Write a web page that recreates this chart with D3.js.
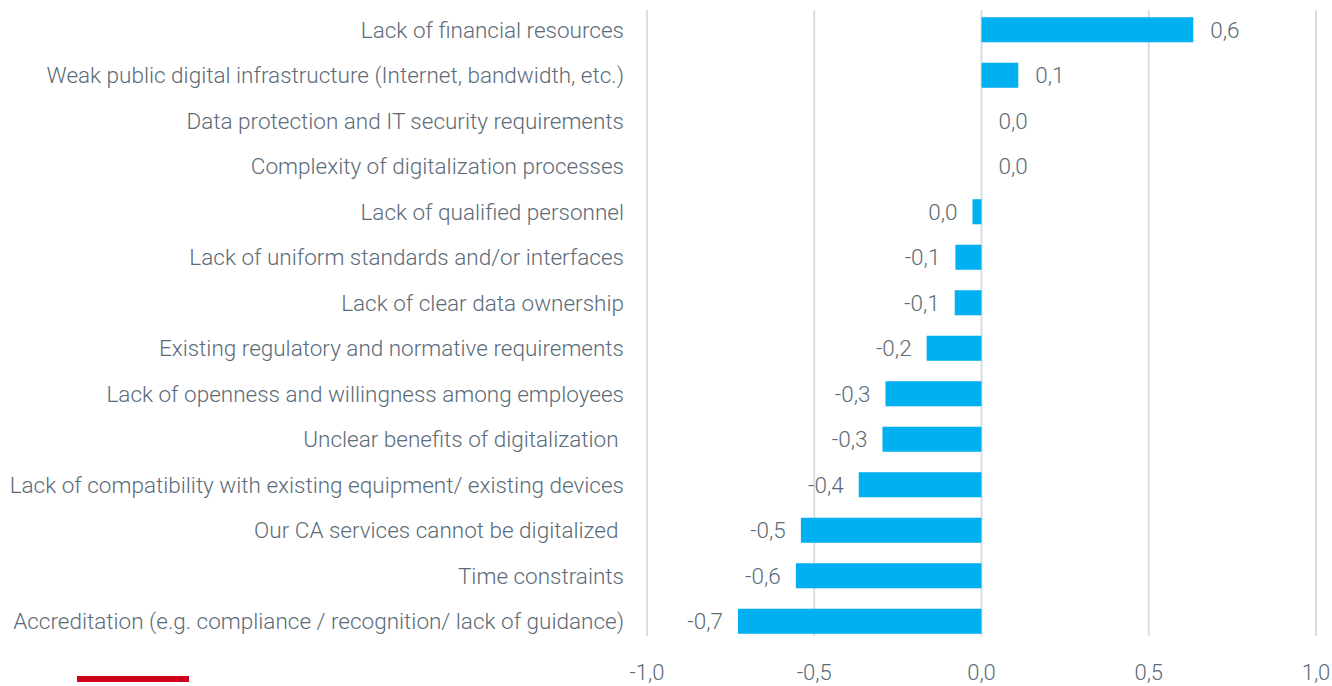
<!DOCTYPE html>
<html>
<head>
<meta charset="utf-8">
<script src="https://cdn.jsdelivr.net/npm/d3@7"></script>
<style>
  body { margin: 0; background: #fff; }
  text { font-family: Roboto, "Noto Sans", sans-serif; font-weight: 300; fill: #5b6b78; white-space: pre; }
</style>
</head>
<body>
<div id="chart"></div>
<script>
var categories = [
  "Lack of financial resources",
  "Weak public digital infrastructure (Internet, bandwidth, etc.)",
  "Data protection and IT security requirements",
  "Complexity of digitalization processes",
  "Lack of qualified personnel",
  "Lack of uniform standards and/or interfaces",
  "Lack of clear data ownership",
  "Existing regulatory and normative requirements",
  "Lack of openness and willingness among employees",
  "Unclear benefits of digitalization ",
  "Lack of compatibility with existing equipment/ existing devices",
  "Our CA services cannot be digitalized ",
  "Time constraints",
  "Accreditation (e.g. compliance / recognition/ lack of guidance)"
];
var values = [0.633, 0.11, 0.0, 0.0, -0.027, -0.078, -0.08, -0.164, -0.287, -0.296, -0.367, -0.54, -0.555, -0.728];
var ticks = [-1, -0.5, 0, 0.5, 1];

var W = 1332, H = 686;
var margin = {top: 7, right: 16, bottom: 42, left: 647};

var svg = d3.select("#chart").append("svg")
    .attr("width", W)
    .attr("height", H);

var x = d3.scaleLinear()
    .domain([-1, 1])
    .range([margin.left, W - margin.right]);

var y = d3.scaleBand()
    .domain(categories)
    .range([margin.top, H - margin.bottom])
    .paddingInner(0.45)
    .paddingOuter(0.225);

var fmt = function (v) { return d3.format(".1f")(v).replace(".", ",").replace("−", "-"); };

// gridlines
svg.append("g").selectAll("line")
    .data(ticks)
    .enter().append("line")
    .attr("x1", function (d) { return x(d); })
    .attr("x2", function (d) { return x(d); })
    .attr("y1", 10)
    .attr("y2", 636)
    .attr("stroke", "#d6dee4")
    .attr("stroke-width", 2);

// bars
svg.append("g").selectAll("rect")
    .data(values)
    .enter().append("rect")
    .attr("x", function (d) { return x(Math.min(0, d)); })
    .attr("y", function (d, i) { return y(categories[i]); })
    .attr("width", function (d) { return Math.abs(x(d) - x(0)); })
    .attr("height", y.bandwidth())
    .attr("fill", "#00b0f0");

// value labels
svg.append("g").selectAll("text")
    .data(values)
    .enter().append("text")
    .attr("x", function (d) { return d < 0 ? x(d) - 15 : x(d) + 17; })
    .attr("y", function (d, i) { return y(categories[i]) + y.bandwidth() / 2; })
    .attr("dy", "0.35em")
    .attr("text-anchor", function (d) { return d < 0 ? "end" : "start"; })
    .attr("font-size", "22.5px")
    .text(function (d) { return fmt(d); });

// category labels (trailing spaces kept, as in the source)
svg.append("g").selectAll("text")
    .data(categories)
    .enter().append("text")
    .attr("xml:space", "preserve")
    .attr("x", 624)
    .attr("y", function (d) { return y(d) + y.bandwidth() / 2; })
    .attr("dy", "0.35em")
    .attr("text-anchor", "end")
    .attr("font-size", "22.5px")
    .text(function (d) { return d; });

// x axis labels
svg.append("g").selectAll("text")
    .data(ticks)
    .enter().append("text")
    .attr("x", function (d) { return x(d); })
    .attr("y", 680)
    .attr("text-anchor", "middle")
    .attr("font-size", "22px")
    .text(function (d) { return fmt(d); });

// red accent line
svg.append("rect")
    .attr("x", 77)
    .attr("y", 676)
    .attr("width", 112)
    .attr("height", 6)
    .attr("fill", "#d0021b");
</script>
</body>
</html>
